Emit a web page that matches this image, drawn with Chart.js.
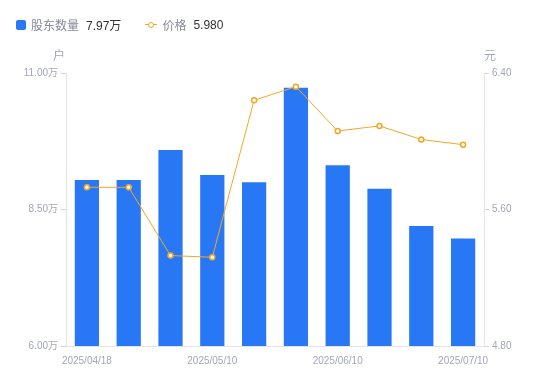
<!DOCTYPE html>
<html><head><meta charset="utf-8">
<script src="https://cdn.jsdelivr.net/npm/chart.js@4"></script>
<style>
html,body{margin:0;padding:0;background:#fff;}
#wrap{position:relative;width:550px;height:381px;}
#legend{position:absolute;left:16px;top:16px;font-family:"Liberation Sans","Noto Sans CJK SC",sans-serif;font-size:12px;display:flex;align-items:center;white-space:nowrap;}
.item{display:flex;align-items:center;margin-right:24px;}
.sq{width:10px;height:10px;background:#2878f5;border-radius:2px;margin-right:5px;}
.ln{position:relative;width:12px;height:10px;margin-right:5px;}
.ln:before{content:"";position:absolute;left:0;right:0;top:4.5px;height:1px;background:#f5a623;}
.ln:after{content:"";position:absolute;left:3px;top:2px;width:4px;height:4px;border:1.5px solid #f5a623;border-radius:50%;background:#fff;}
.nm{color:#888a99;margin-right:7px;}
.val{color:#333;}
</style></head>
<body><div id="wrap"><canvas id="c" width="550" height="381"></canvas><div id="legend"></div></div>
<script>
const categories = ["2025/04/18","2025/04/25","2025/04/30","2025/05/10","2025/05/20","2025/05/31","2025/06/10","2025/06/20","2025/06/30","2025/07/10"];
const holders = [9.04, 9.04, 9.59, 9.13, 9.00, 10.73, 9.31, 8.88, 8.20, 7.97];
const prices = [5.73, 5.73, 5.33, 5.32, 6.24, 6.32, 6.06, 6.09, 6.01, 5.98];
const xTickIdx = [0, 3, 6, 9];
const leftTicks = [6.00, 8.50, 11.00];
const rightTicks = [4.80, 5.60, 6.40];

const BLUE = "#2878f5", ORANGE = "#f5a623", AXIS = "#e3e4ea", TICK = "#d3d5de", TXT = "#a3a6b8";
const FONT = '"Liberation Sans","Noto Sans CJK SC",sans-serif';

document.getElementById('legend').innerHTML =
 '<div class="item"><span class="sq"></span><span class="nm">股东数量</span><span class="val">'+holders[holders.length-1].toFixed(2)+'万</span></div>'+
 '<div class="item"><span class="ln"></span><span class="nm">价格</span><span class="val">'+prices[prices.length-1].toFixed(3)+'</span></div>';

const titles = {
  id:'axisTitles',
  afterDraw(chart){
    const c = chart.ctx, l = chart.scales.y, r = chart.scales.y1;
    c.save(); c.font = '12px '+FONT; c.fillStyle = TXT; c.textAlign='center'; c.textBaseline='middle';
    c.fillText('户', l.right-7, l.top-16);
    c.fillText('元', r.left+6, r.top-16);
    c.restore();
  }
};

new Chart(document.getElementById('c'), {
  data:{
    labels: categories,
    datasets:[
      {type:'line', data:prices, yAxisID:'y1', borderColor:ORANGE, borderWidth:1, backgroundColor:'#fff',
       pointRadius:2.5, pointBorderWidth:1.5, pointBackgroundColor:'#fff', pointBorderColor:ORANGE, tension:0, order:0},
      {type:'bar', data:holders, yAxisID:'y', backgroundColor:BLUE, categoryPercentage:1, barPercentage:0.58, order:1}
    ]
  },
  options:{
    responsive:false, animation:false,
    layout:{padding:{top:73,left:0,right:0,bottom:0}},
    plugins:{legend:{display:false}, tooltip:{enabled:false}},
    scales:{
      x:{
        grid:{display:false}, border:{display:true,color:AXIS},
        ticks:{autoSkip:false, maxRotation:0, color:TXT, font:{family:FONT,size:10}, padding:1,
          callback:(v,i)=> xTickIdx.includes(i) ? categories[i] : ''},
        afterFit:s=>{s.height=35;}
      },
      y:{
        position:'left', min:6, max:11,
        afterBuildTicks:s=>{s.ticks = leftTicks.map(v=>({value:v}));},
        grid:{drawOnChartArea:false, color:TICK, tickLength:5}, border:{color:AXIS},
        ticks:{color:TXT, font:{family:FONT,size:10}, padding:3, callback:v=>v.toFixed(2)+'万'},
        afterFit:s=>{s.width=66;}
      },
      y1:{
        position:'right', min:4.8, max:6.4,
        afterBuildTicks:s=>{s.ticks = rightTicks.map(v=>({value:v}));},
        grid:{drawOnChartArea:false, color:TICK, tickLength:5}, border:{color:AXIS},
        ticks:{color:TXT, font:{family:FONT,size:10}, padding:3, callback:v=>v.toFixed(2)},
        afterFit:s=>{s.width=66;}
      }
    }
  },
  plugins:[titles]
});
</script></body></html>
